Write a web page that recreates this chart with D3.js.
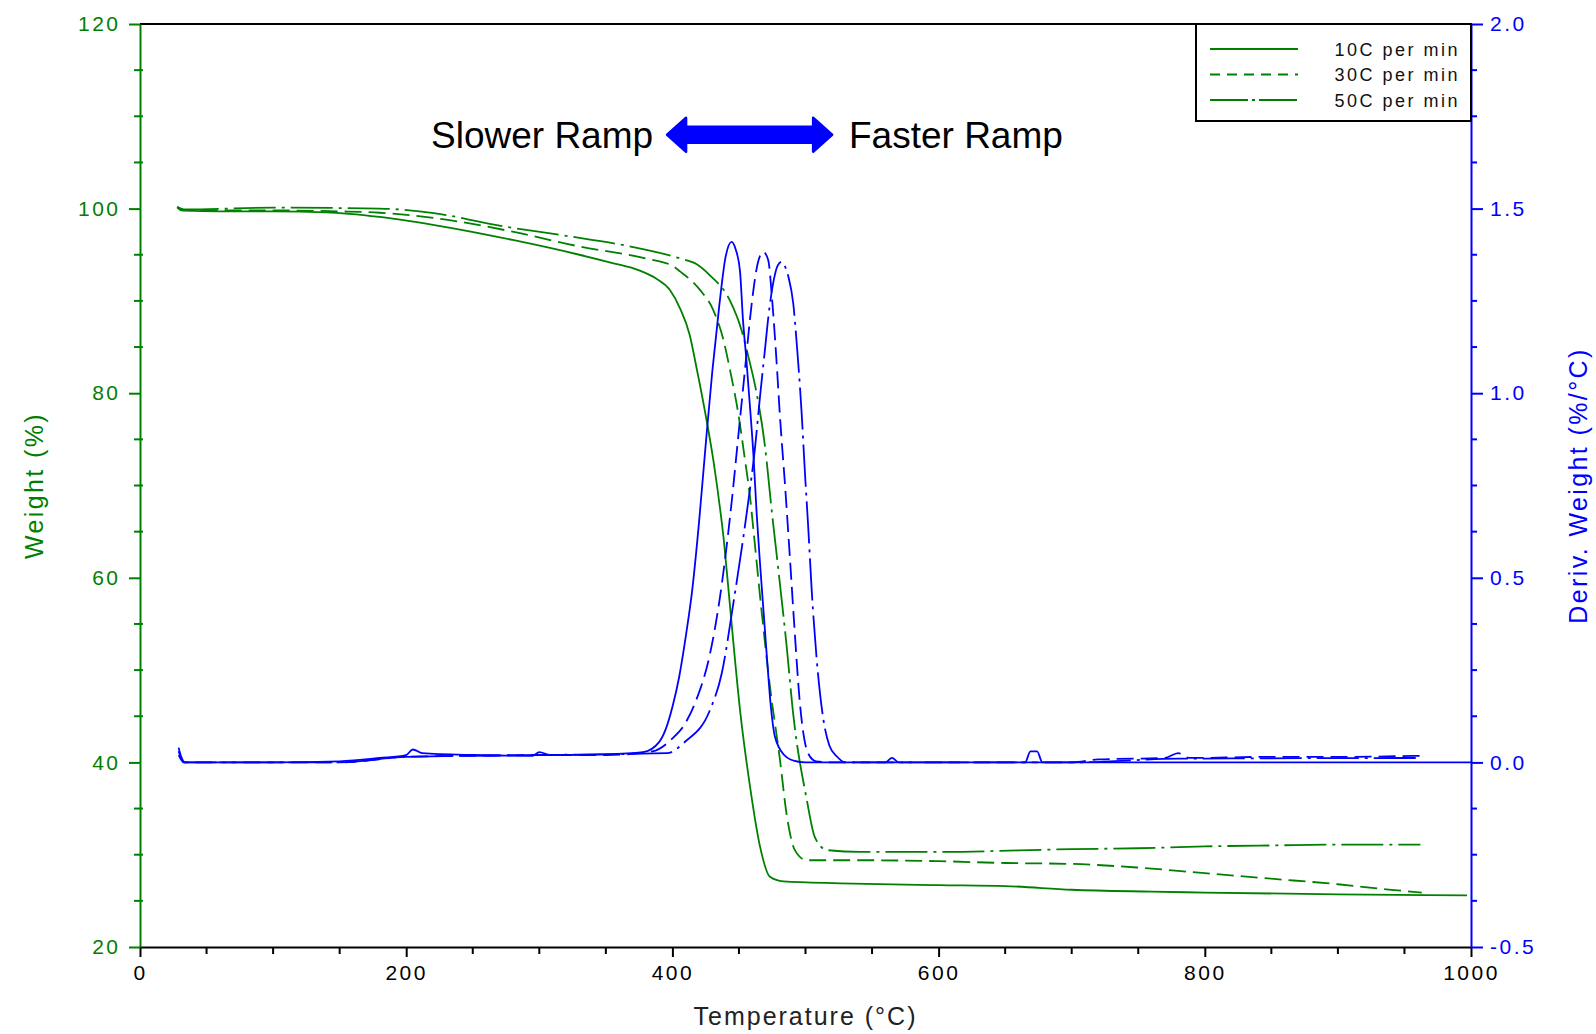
<!DOCTYPE html>
<html>
<head>
<meta charset="utf-8">
<script src="https://cdn.jsdelivr.net/npm/d3@7"></script>
<style>
  body { margin: 0; background: #fff; }
  svg text { font-family: "Liberation Sans", Arial, sans-serif; }
</style>
</head>
<body>
<div id="chart"></div>
<script>
// TGA data: [temperature degC, value]
let weight10 = [[28,100.2],[31,99.8],[60,99.7],[100,99.7],[140,99.6],[180,99.1],[230,98.0],[280,96.6],[330,95.0],[355,94.1],[375,93.3],[388,92.4],[398,91.2],[405.7,89.2],[413,86.3],[418.2,82.7],[424.5,78.0],[430.7,72.8],[435.8,67.5],[438.3,64.5],[441,60.5],[444.5,55.0],[450.8,45.7],[458.3,37.4],[465.8,30.9],[473.3,27.6],[483.3,27.1],[526,26.9],[600,26.7],[650,26.6],[700,26.2],[760,26.0],[800,25.9],[900,25.7],[997,25.6]];
let weight30 = [[28,100.1],[33,99.8],[100,99.8],[150,99.7],[180,99.55],[230,98.8],[280,97.5],[330,95.9],[380,94.6],[400,93.8],[405.7,93.2],[420.7,91.2],[430.7,89.0],[438.3,85.8],[443.3,82.5],[449.5,77.8],[454.5,72.8],[458.3,68.8],[460.8,65.3],[467,56.4],[473.3,48.2],[480.8,40.3],[485.9,34.3],[492,30.5],[500.9,29.4],[541,29.4],[600,29.3],[650,29.1],[700,29.0],[750,28.6],[800,28.0],[850,27.4],[900,26.8],[940,26.2],[963,25.9]];
let weight50 = [[28,100.2],[34,99.9],[100,100.1],[180,100.0],[210,99.7],[230,99.3],[268,98.2],[318,97.1],[368,95.9],[405.7,94.6],[418,94.0],[428,92.8],[443,90.1],[452,86.8],[457,84.0],[463,80.2],[469.6,74.2],[474.6,67.3],[479.6,60.9],[485.9,52.5],[490.8,45.2],[500.9,36.0],[507,31.9],[516,30.5],[541,30.3],[600,30.3],[700,30.6],[750,30.7],[800,30.9],[850,31.0],[900,31.1],[962,31.1]];

let deriv10 = [[29,0.04],[31,0.015],[34,0.0],[100,0.0],[150,0.003],[180,0.012],[200,0.02],[205,0.035],[212,0.025],[250,0.02],[295,0.018],[300,0.028],[308,0.02],[350,0.022],[378,0.028],[390,0.055],[395,0.09],[400,0.15],[405,0.23],[410,0.34],[415,0.47],[420,0.65],[425,0.86],[430,1.06],[435,1.23],[440,1.37],[444.5,1.41],[447.5,1.39],[450.8,1.33],[453,1.2],[455.6,1.09],[458.3,0.963],[460.8,0.837],[463.3,0.675],[465.8,0.54],[470.8,0.295],[474,0.15],[477,0.07],[484,0.02],[491,0.005],[500,0.0],[560,0.0],[565,0.012],[570,0.0],[665,0.0],[669,0.03],[674,0.03],[678,0.0],[1000,0.0]];
let deriv30 = [[29,0.03],[33,0.0],[150,0.0],[200,0.015],[250,0.018],[300,0.02],[350,0.02],[385,0.03],[400,0.065],[409.5,0.105],[418,0.17],[428,0.29],[435.8,0.449],[443.3,0.665],[450.8,0.93],[454.5,1.063],[459.6,1.243],[464,1.35],[468.3,1.383],[472,1.36],[475,1.25],[478,1.1],[481,0.927],[484.7,0.747],[488,0.57],[491.6,0.37],[495.8,0.16],[502,0.024],[508,0.003],[520,0.0],[700,0.0],[720,0.008],[770,0.012],[780,0.025],[788,0.012],[850,0.015],[900,0.015],[963,0.018]];
let deriv50 = [[29,0.02],[33,0.0],[150,0.0],[200,0.015],[300,0.02],[396,0.025],[409.5,0.056],[428,0.14],[437,0.24],[445.8,0.431],[456,0.68],[462,0.85],[465.8,0.99],[469.6,1.12],[472.1,1.207],[475.8,1.3],[479,1.345],[482,1.356],[485,1.34],[487.1,1.316],[490.8,1.243],[493.3,1.14],[497.1,0.946],[499.6,0.783],[502,0.64],[504.6,0.47],[508.4,0.28],[513.5,0.115],[518,0.045],[523.6,0.016],[530,0.0],[700,0.0],[780,0.01],[962,0.012]];

let seriesNames = ["10C per min", "30C per min", "50C per min"];
let dashes = [null, "17,7", "42,6,3,6"];

let xTicks = [0, 200, 400, 600, 800, 1000];
let yLeftTicks = [20, 40, 60, 80, 100, 120];
let yRightTicks = [-0.5, 0.0, 0.5, 1.0, 1.5, 2.0];

// annotation, in data units (temperature, weight)
let arrowFrom = 396, arrowTo = 520, arrowAt = 108;
let slowerAt = [385.5, 106.6], fasterAt = [532.7, 106.6];

let green = "#008000", blue = "#0000ff";

let margin = { top: 24, right: 125, bottom: 87, left: 140 },
  width = 1596 - margin.left - margin.right,
  height = 1034 - margin.top - margin.bottom;

let x = d3.scaleLinear().domain([0, 1000]).range([0, width]);
let yL = d3.scaleLinear().domain([20, 120]).range([height, 0]);
let yR = d3.scaleLinear().domain([-0.5, 2.0]).range([height, 0]);

let svg = d3
  .select("#chart")
  .append("svg")
  .attr("width", 1596)
  .attr("height", 1034)
  .append("g")
  .attr("transform", "translate(" + margin.left + "," + margin.top + ")");

// top border
svg.append("line")
  .attr("x1", 0).attr("x2", width).attr("y1", 0).attr("y2", 0)
  .attr("stroke", "#000").attr("stroke-width", 2);

// weight curves
let wline = d3.line().curve(d3.curveMonotoneX).x(d => x(d[0])).y(d => yL(d[1]));
[weight10, weight30, weight50].forEach(function(data, i) {
  svg.append("path")
    .datum(data)
    .attr("fill", "none")
    .attr("stroke", green)
    .attr("stroke-width", 1.8)
    .attr("stroke-dasharray", dashes[i])
    .attr("d", wline);
});

// derivative curves
let dline = d3.line().curve(d3.curveMonotoneX).x(d => x(d[0])).y(d => yR(d[1]));
[deriv10, deriv30, deriv50].forEach(function(data, i) {
  svg.append("path")
    .datum(data)
    .attr("fill", "none")
    .attr("stroke", blue)
    .attr("stroke-width", 1.8)
    .attr("stroke-dasharray", dashes[i])
    .attr("d", dline);
});

// X axis
let xAxis = svg.append("g")
  .attr("transform", "translate(0," + height + ")")
  .call(d3.axisBottom(x).tickValues(xTicks).tickSize(10).tickPadding(8).tickSizeOuter(0)
    .tickFormat(d3.format("d")));
xAxis.selectAll("text").attr("font-size", 21).attr("letter-spacing", 2.5).attr("fill", "#000");
xAxis.selectAll("line, path").attr("stroke", "#000").attr("stroke-width", 2);
svg.append("g").selectAll("line")
  .data(d3.range(50, 1000, 50).filter(v => v % 200 !== 0))
  .enter().append("line")
  .attr("x1", d => x(d)).attr("x2", d => x(d))
  .attr("y1", height).attr("y2", height + 7)
  .attr("stroke", "#000").attr("stroke-width", 2);

// left axis
let leftAxis = svg.append("g")
  .call(d3.axisLeft(yL).tickValues(yLeftTicks).tickSize(11).tickPadding(8.5).tickSizeOuter(0));
leftAxis.selectAll("text").attr("font-size", 21).attr("letter-spacing", 2.5).attr("fill", green);
leftAxis.selectAll("line, path").attr("stroke", green).attr("stroke-width", 2);
svg.append("g").selectAll("line")
  .data(d3.range(25, 120, 5).filter(v => v % 20 !== 0))
  .enter().append("line")
  .attr("x1", -6).attr("x2", 3)
  .attr("y1", d => yL(d)).attr("y2", d => yL(d))
  .attr("stroke", green).attr("stroke-width", 2);

// right axis
let rightAxis = svg.append("g")
  .attr("transform", "translate(" + width + ",0)")
  .call(d3.axisRight(yR).tickValues(yRightTicks).tickSize(12).tickPadding(7).tickSizeOuter(0)
    .tickFormat(d => d.toFixed(1)));
rightAxis.selectAll("text").attr("font-size", 21).attr("letter-spacing", 2.5).attr("fill", blue);
rightAxis.selectAll("line, path").attr("stroke", blue).attr("stroke-width", 2);
svg.append("g").selectAll("line")
  .data(d3.range(-0.375, 2.0, 0.125).filter(v => Math.abs(v * 2 - Math.round(v * 2)) > 0.01))
  .enter().append("line")
  .attr("x1", width).attr("x2", width + 6)
  .attr("y1", d => yR(d)).attr("y2", d => yR(d))
  .attr("stroke", blue).attr("stroke-width", 2);

// axis titles
svg.append("text")
  .attr("transform", "translate(-97," + height / 2 + ") rotate(-90)")
  .attr("text-anchor", "middle")
  .attr("font-size", 25).attr("letter-spacing", 2.4)
  .attr("fill", green)
  .text("Weight (%)");

svg.append("text")
  .attr("x", width / 2).attr("y", height + 78)
  .attr("text-anchor", "middle")
  .attr("font-size", 25).attr("letter-spacing", 2)
  .attr("fill", "#222")
  .text("Temperature (°C)");

svg.append("text")
  .attr("transform", "translate(" + (width + 116) + "," + height / 2 + ") rotate(-90)")
  .attr("text-anchor", "middle")
  .attr("font-size", 25).attr("letter-spacing", 2.4)
  .attr("fill", blue)
  .text("Deriv. Weight (%/°C)");

// legend
let legend = svg.append("g").attr("transform", "translate(" + (width - 275) + ",0)");
legend.append("rect")
  .attr("width", 275).attr("height", 97)
  .attr("fill", "#fff").attr("stroke", "#000").attr("stroke-width", 2);
seriesNames.forEach(function(name, i) {
  let ly = 25 + i * 25.5;
  legend.append("line")
    .attr("x1", 14).attr("x2", 102).attr("y1", ly).attr("y2", ly)
    .attr("stroke", green).attr("stroke-width", 1.8)
    .attr("stroke-dasharray", i === 0 ? null : i === 1 ? "10,7" : "38,4,3,4");
  legend.append("text")
    .attr("x", 264).attr("y", ly + 6.5)
    .attr("text-anchor", "end")
    .attr("font-size", 18).attr("letter-spacing", 2.5)
    .attr("fill", "#111")
    .text(name);
});

// annotation: slower / faster ramp
let ax1 = x(arrowFrom), ax2 = x(arrowTo), ay = yL(arrowAt);
let hl = 19, hh = 17, sh = 8;
let arrowPts = [
  [ax1, ay], [ax1 + hl, ay - hh], [ax1 + hl, ay - sh], [ax2 - hl, ay - sh], [ax2 - hl, ay - hh],
  [ax2, ay], [ax2 - hl, ay + hh], [ax2 - hl, ay + sh], [ax1 + hl, ay + sh], [ax1 + hl, ay + hh]
];
svg.append("path")
  .attr("d", "M" + arrowPts.map(p => p.join(",")).join("L") + "Z")
  .attr("fill", blue).attr("stroke", blue)
  .attr("stroke-width", 2.5).attr("stroke-linejoin", "round");

svg.append("text")
  .attr("x", x(slowerAt[0])).attr("y", yL(slowerAt[1]))
  .attr("text-anchor", "end")
  .attr("font-size", 37).attr("fill", "#000")
  .text("Slower Ramp");

svg.append("text")
  .attr("x", x(fasterAt[0])).attr("y", yL(fasterAt[1]))
  .attr("font-size", 37).attr("fill", "#000")
  .text("Faster Ramp");
</script>
</body>
</html>
